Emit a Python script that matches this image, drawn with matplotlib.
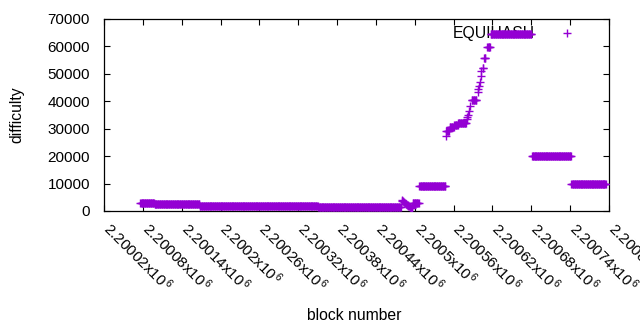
import matplotlib
matplotlib.use('Agg')
import matplotlib.pyplot as plt
import matplotlib.transforms as mtrans
import numpy as np

plt.rcParams['font.family'] = ['Liberation Sans', 'DejaVu Sans']
plt.rcParams['mathtext.fontset'] = 'custom'
plt.rcParams['mathtext.rm'] = 'Liberation Sans'
plt.rcParams['mathtext.it'] = 'Liberation Sans'

# Flat runs of blocks sharing one difficulty: start block, end block, difficulty
run_start = [2200076, 2200098, 2200168, 2200233, 2200351, 2200497, 2200507,
             2200549, 2200554, 2200561, 2200567, 2200588, 2200605, 2200607,
             2200612, 2200617, 2200681, 2200742]
run_end = [2200097, 2200167, 2200232, 2200350, 2200478, 2200506, 2200547,
           2200553, 2200560, 2200566, 2200579, 2200595, 2200606, 2200609,
           2200616, 2200680, 2200741, 2200795]
run_value = [3050, 2700, 1950, 1750, 1350, 2900, 9000,
             29200, 30500, 31300, 32200, 40500, 52300, 55800,
             59700, 64400, 20000, 9800]

# Individual blocks (dip and steep rise)
pt_block = [2200480, 2200481, 2200482, 2200483, 2200485, 2200486, 2200487,
            2200488, 2200489, 2200490, 2200491, 2200492, 2200493, 2200494,
            2200495, 2200496,
            2200548, 2200580, 2200581, 2200582, 2200584, 2200586, 2200597,
            2200598, 2200599, 2200600, 2200602, 2200603]
pt_value = [4000, 3800, 3500, 3300, 3000, 2700, 2500,
            2300, 2100, 1900, 1700, 1500, 1300, 1100,
            1000, 1600,
            27500, 33500, 34300, 35000, 36500, 38200, 43500,
            44300, 45400, 47000, 49200, 51000]

xtick_values = [2200020, 2200080, 2200140, 2200200, 2200260, 2200320, 2200380,
                2200440, 2200500, 2200560, 2200620, 2200680, 2200740, 2200800]
xtick_text = ['2.20002', '2.20008', '2.20014', '2.2002', '2.20026', '2.20032',
              '2.20038', '2.20044', '2.2005', '2.20056', '2.20062', '2.20068',
              '2.20074', '2.2008']
ytick_values = [0, 10000, 20000, 30000, 40000, 50000, 60000, 70000]

blocks = []
values = []
for s, e, v in zip(run_start, run_end, run_value):
    for b in range(s, e + 1):
        blocks.append(b)
        values.append(v)
blocks += pt_block
values += pt_value

W, H = 640, 330
fig = plt.figure(figsize=(W / 100, H / 100), dpi=100)
L, R, T, B = 104, 609, 19, 211
ax = fig.add_axes([L / W, (H - B) / H, (R - L) / W, (B - T) / H])

ax.plot(blocks, values, linestyle='none', marker='+', ms=5.5, mew=1.0,
        color='#9400D3', label='EQUIHASH', zorder=3)

ax.set_xlim(2200020, 2200800)
ax.set_ylim(0, 70000)
ax.set_xticks(xtick_values)
ax.set_xticklabels([t + r'x10$^{\,6}$' for t in xtick_text], rotation=-45,
                   ha='left', va='top', rotation_mode='anchor')
ax.set_yticks(ytick_values)
ax.set_yticklabels([str(v) for v in ytick_values])
ax.tick_params(direction='in', top=True, right=True, length=4, width=0.8,
               labelsize=11, colors='black')
ax.tick_params(axis='y', pad=10)
ax.tick_params(axis='x', pad=9)
shift = mtrans.ScaledTranslation(9 / 100, 5 / 100, fig.dpi_scale_trans)
for lab in ax.get_xticklabels():
    lab.set_transform(lab.get_transform() + shift)
for sp in ax.spines.values():
    sp.set_linewidth(0.9)

leg = ax.legend(loc='upper right', bbox_to_anchor=((583 - L) / (R - L), (B - 26) / (B - T)),
                frameon=False, markerfirst=False, handlelength=2.0,
                handletextpad=1.1, borderpad=0, borderaxespad=0, fontsize=11.3)
leg.set_zorder(1)

fig.text(17 / W, 1 - 115 / H, 'difficulty', rotation=90, ha='center', va='center', fontsize=11.3)
fig.text(354 / W, 1 - 316 / H, 'block number', ha='center', va='center', fontsize=11.3)

fig.savefig('out.png', dpi=100)
